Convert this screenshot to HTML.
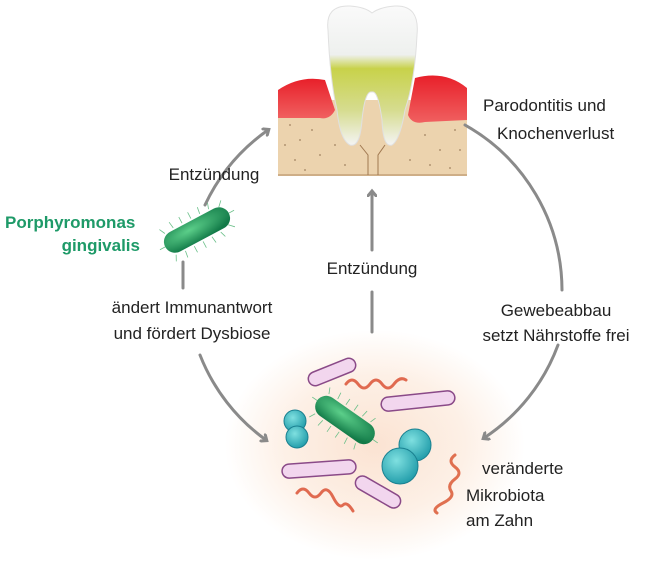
<!DOCTYPE html>
<html><head><meta charset="utf-8"><style>
html,body{margin:0;padding:0;background:#fff;}
svg{display:block;font-family:"Liberation Sans",sans-serif;}
</style></head><body>
<svg width="652" height="562" viewBox="0 0 652 562" xmlns="http://www.w3.org/2000/svg">
<defs>
<radialGradient id="glow" cx="0.5" cy="0.5" r="0.5">
<stop offset="0" stop-color="#fbe3d2"/><stop offset="0.6" stop-color="#fdf0e6"/><stop offset="1" stop-color="#fff"/>
</radialGradient>
<linearGradient id="toothG" x1="0" y1="0" x2="0" y2="1">
<stop offset="0" stop-color="#fafafa"/><stop offset="0.35" stop-color="#eef0ee"/><stop offset="0.45" stop-color="#c8d24a"/><stop offset="0.75" stop-color="#d6dc90"/><stop offset="1" stop-color="#f4f4f4"/>
</linearGradient>
<linearGradient id="gum" x1="0" y1="0" x2="0" y2="1">
<stop offset="0" stop-color="#e8202a"/><stop offset="1" stop-color="#f06060"/>
</linearGradient>
<radialGradient id="bact" cx="0.4" cy="0.35" r="0.7">
<stop offset="0" stop-color="#5ccf8a"/><stop offset="1" stop-color="#127a48"/>
</radialGradient>
<radialGradient id="cocc" cx="0.4" cy="0.35" r="0.7">
<stop offset="0" stop-color="#7fe0e0"/><stop offset="1" stop-color="#1e9aa8"/>
</radialGradient>
<marker id="ah" markerWidth="10" markerHeight="10" refX="5" refY="5" orient="auto" markerUnits="userSpaceOnUse">
<path d="M0,0 L6,5 L0,10" fill="none" stroke="#8a8a8a" stroke-width="3"/>
</marker>
</defs>

<!-- glow -->
<ellipse cx="375" cy="445" rx="150" ry="115" fill="url(#glow)"/>

<!-- tooth -->
<rect x="278" y="100" width="189" height="76" fill="#ecd3ae"/>
<g fill="#8a6a4a" opacity="0.6">
<circle cx="290" cy="125" r="1"/><circle cx="300" cy="140" r="1"/><circle cx="312" cy="130" r="1"/><circle cx="295" cy="160" r="1"/><circle cx="320" cy="155" r="1"/><circle cx="335" cy="145" r="1"/><circle cx="305" cy="170" r="1"/><circle cx="345" cy="165" r="1"/><circle cx="425" cy="135" r="1"/><circle cx="440" cy="150" r="1"/><circle cx="455" cy="130" r="1"/><circle cx="430" cy="165" r="1"/><circle cx="450" cy="168" r="1"/><circle cx="410" cy="160" r="1"/><circle cx="460" cy="150" r="1"/><circle cx="285" cy="145" r="1"/>
</g>
<line x1="278" y1="175" x2="467" y2="175" stroke="#b08a60" stroke-width="1"/>
<path d="M278,90 Q300,75 325,80 L335,110 Q330,120 320,118 L278,118 Z" fill="url(#gum)"/>
<path d="M467,88 Q445,70 415,78 L408,115 Q412,125 425,122 L467,120 Z" fill="url(#gum)"/>
<path d="M328,30 Q325,5 350,6 Q365,7 372,13 Q380,7 395,6 Q420,5 417,35 Q415,80 405,110 Q400,140 392,145 Q383,148 382,120 Q378,90 372,92 Q365,90 362,120 Q360,148 350,145 Q340,140 337,110 Q330,80 328,30 Z" fill="url(#toothG)" stroke="#e0e0e0"/>
<path d="M360,145 L368,155 L368,175 M385,145 L378,155 L378,175" stroke="#a07850" fill="none"/>

<!-- arcs -->
<g stroke="#8a8a8a" stroke-width="3" fill="none" stroke-linecap="round">
<path d="M205,205 A190,190 0 0 1 268,130" marker-end="url(#ah)"/>
<path d="M183,262 L183,288"/>
<path d="M200,355 A190,190 0 0 0 266,440" marker-end="url(#ah)"/>
<path d="M465,125 A190,190 0 0 1 562,290"/>
<path d="M558,345 A190,190 0 0 1 484,438" marker-end="url(#ah)"/>
<path d="M372,332 L372,292"/>
<path d="M372,250 L372,192" marker-end="url(#ah)"/>
</g>

<!-- left bacterium -->
<g transform="translate(197,230) rotate(-28)">
<g stroke="#6cc08a" stroke-width="0.8">
<path d="M-30,-12 L-33,-18 M-20,-13 L-21,-20 M-10,-13 L-10,-20 M0,-13 L0,-20 M10,-13 L11,-20 M20,-13 L22,-19 M30,-10 L35,-15 M-30,12 L-33,18 M-20,13 L-21,20 M-10,13 L-10,20 M0,13 L0,20 M10,13 L11,20 M20,13 L22,19 M30,10 L35,15 M-36,0 L-42,0 M36,0 L42,0"/>
</g>
<rect x="-36" y="-11" width="72" height="22" rx="11" fill="url(#bact)"/>
</g>

<!-- microbiota -->
<g fill="#f2d6ee" stroke="#8a4a88" stroke-width="1.5">
<rect x="-25" y="-7" width="50" height="14" rx="7" transform="translate(332,372) rotate(-22)"/>
<rect x="-37" y="-7" width="74" height="14" rx="7" transform="translate(418,401) rotate(-6)"/>
<rect x="-37" y="-7" width="74" height="14" rx="7" transform="translate(319,469) rotate(-4)"/>
<rect x="-25" y="-7" width="50" height="14" rx="7" transform="translate(378,492) rotate(30)"/>
</g>
<g fill="none" stroke="#e06a50" stroke-width="3" stroke-linecap="round">
<path d="M346,384 q6,-8 12,0 t12,0 t12,0 t12,0 t12,-4"/>
<path d="M297,493 q6,-8 12,0 t12,0 t12,4 t10,8 t10,6"/>
<path d="M455,455 q-8,6 0,12 t0,12 t-4,12 t-8,12 t-6,10" stroke="#e07050"/>
</g>
<g transform="translate(345,420) rotate(35)">
<g stroke="#6cc08a" stroke-width="0.8">
<path d="M-28,-12 L-31,-18 M-18,-13 L-19,-20 M-8,-13 L-8,-20 M2,-13 L2,-20 M12,-13 L13,-20 M22,-13 L24,-19 M-28,12 L-31,18 M-18,13 L-19,20 M-8,13 L-8,20 M2,13 L2,20 M12,13 L13,20 M22,13 L24,19 M-34,0 L-40,0 M34,0 L40,0"/>
</g>
<rect x="-34" y="-11" width="68" height="22" rx="11" fill="url(#bact)"/>
</g>
<circle cx="295" cy="421" r="11" fill="url(#cocc)" stroke="#1a8090"/>
<circle cx="297" cy="437" r="11" fill="url(#cocc)" stroke="#1a8090"/>
<circle cx="415" cy="445" r="16" fill="url(#cocc)" stroke="#1a8090"/>
<circle cx="400" cy="466" r="18" fill="url(#cocc)" stroke="#1a8090"/>

<!-- labels -->
<g font-size="17" fill="#222">
<text x="483" y="111">Parodontitis und</text>
<text x="497" y="139">Knochenverlust</text>
<text x="214" y="180" text-anchor="middle">Entzündung</text>
<text x="372" y="274" text-anchor="middle">Entzündung</text>
<text x="192" y="313" text-anchor="middle">ändert Immunantwort</text>
<text x="192" y="339" text-anchor="middle">und fördert Dysbiose</text>
<text x="556" y="316" text-anchor="middle">Gewebeabbau</text>
<text x="556" y="341" text-anchor="middle">setzt Nährstoffe frei</text>
<text x="482" y="474">veränderte</text>
<text x="466" y="501">Mikrobiota</text>
<text x="466" y="526">am Zahn</text>
</g>
<g font-size="17" font-weight="bold" fill="#1e9a68">
<text x="5" y="228">Porphyromonas</text>
<text x="140" y="251" text-anchor="end">gingivalis</text>
</g>
</svg>
</body></html>
